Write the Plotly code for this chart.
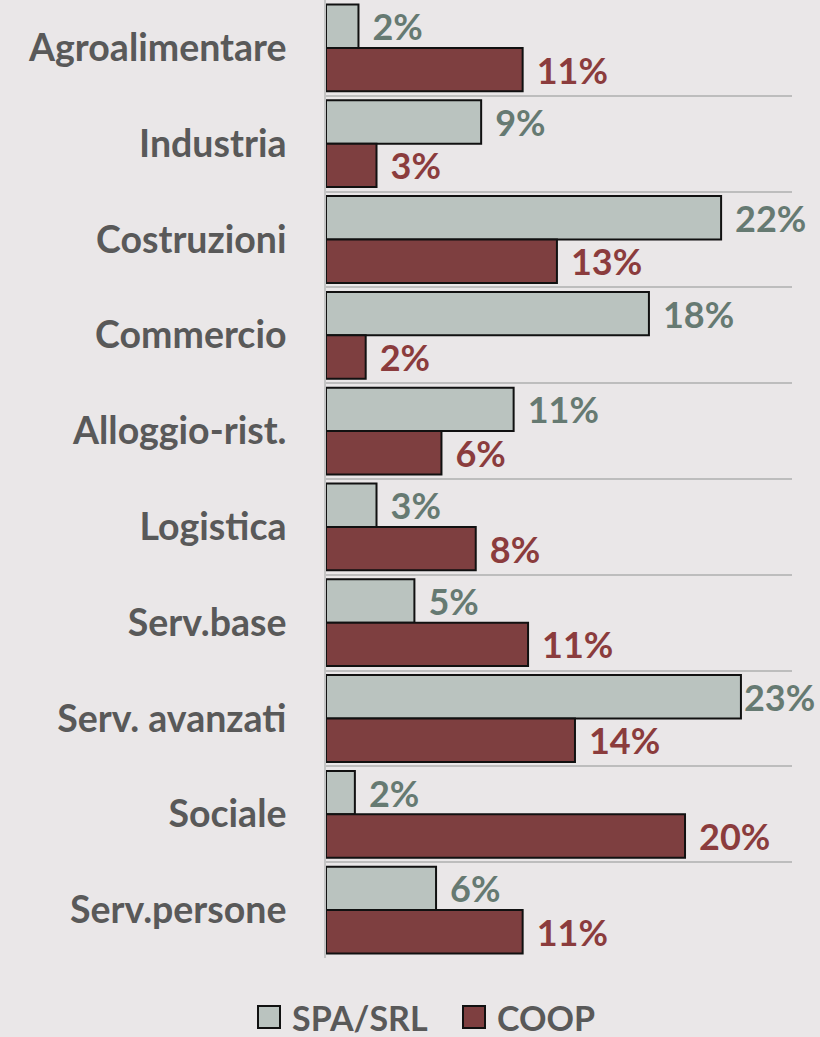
import plotly.graph_objects as go

categories = ["Agroalimentare", "Industria", "Costruzioni", "Commercio", "Alloggio-rist.",
              "Logistica", "Serv.base", "Serv. avanzati", "Sociale", "Serv.persone"]
spa_values = [1.8, 8.6, 21.9, 17.9, 10.4, 2.8, 4.9, 23.0, 1.6, 6.1]
coop_values = [10.9, 2.8, 12.8, 2.2, 6.4, 8.3, 11.2, 13.8, 19.9, 10.9]
spa_labels = ["2%", "9%", "22%", "18%", "11%", "3%", "5%", "23%", "2%", "6%"]
coop_labels = ["11%", "3%", "13%", "2%", "6%", "8%", "11%", "14%", "20%", "11%"]
series_names = ["SPA/SRL", "COOP"]

W, H = 820, 1037
L, R, T, B = 326, 28, 0, 79
FONT = "Lato"
BG = "#EAE7E8"
SPA_FILL = "#BAC3BF"
COOP_FILL = "#7E3F40"
SPA_TXT = "#667A72"
COOP_TXT = "#8B3C3D"
CAT_TXT = "#595959"
XMAX = 25.83


def padded(labels, values):
    # labels that would run past the right edge get no leading gap (as in the source)
    return [("" if v > 22.5 else " \u200a") + t for t, v in zip(labels, values)]


fig = go.Figure()
fig.add_trace(go.Bar(
    y=categories, x=spa_values, orientation="h", name=series_names[0],
    marker=dict(color=SPA_FILL, line=dict(color="#111111", width=2)),
    text=padded(spa_labels, spa_values), textposition="outside",
    textfont=dict(family=FONT, size=36, color=SPA_TXT, weight=700),
    cliponaxis=False, constraintext="none", showlegend=False,
))
fig.add_trace(go.Bar(
    y=categories, x=coop_values, orientation="h", name=series_names[1],
    marker=dict(color=COOP_FILL, line=dict(color="#111111", width=2)),
    text=padded(coop_labels, coop_values), textposition="outside",
    textfont=dict(family=FONT, size=36, color=COOP_TXT, weight=700),
    cliponaxis=False, constraintext="none", showlegend=False,
))

fig.update_layout(
    width=W, height=H,
    margin=dict(l=L, r=R, t=T, b=B, pad=0),
    paper_bgcolor=BG, plot_bgcolor=BG,
    barmode="group", bargap=0.094, bargroupgap=0,
    font=dict(family=FONT, color=CAT_TXT),
    xaxis=dict(range=[0, XMAX], showgrid=False, showticklabels=False,
               zeroline=False, showline=False, fixedrange=True),
    yaxis=dict(autorange="reversed", tickson="boundaries", showgrid=True,
               gridcolor="#BDBDBD", gridwidth=2, showline=True,
               linecolor="#C4C4C4", linewidth=2, ticks="",
               ticklabelstandoff=30,
               tickfont=dict(family=FONT, size=37.5, color=CAT_TXT, weight=700)),
)

# Custom legend (keys below the plot)
plot_w = W - L - R
plot_h = H - T - B


def px_x(px):
    return (px - L) / plot_w


def px_y(py):
    return (plot_h + T - py) / plot_h


legend_items = [(series_names[0], SPA_FILL, 258, 290), (series_names[1], COOP_FILL, 463, 495)]
for name, color, kx, tx in legend_items:
    fig.add_shape(type="rect", xref="paper", yref="paper",
                  x0=px_x(kx), x1=px_x(kx + 22), y0=px_y(1006), y1=px_y(1028),
                  fillcolor=color, line=dict(color="#111111", width=2))
    fig.add_annotation(xref="paper", yref="paper", x=px_x(tx), y=px_y(1017),
                       text=name, showarrow=False, xanchor="left", yanchor="middle",
                       font=dict(family=FONT, size=34, color=CAT_TXT, weight=700))

fig.write_html("out.html", config={"displayModeBar": False},
               post_script="document.body.style.margin='0';document.body.style.overflow='hidden';")
